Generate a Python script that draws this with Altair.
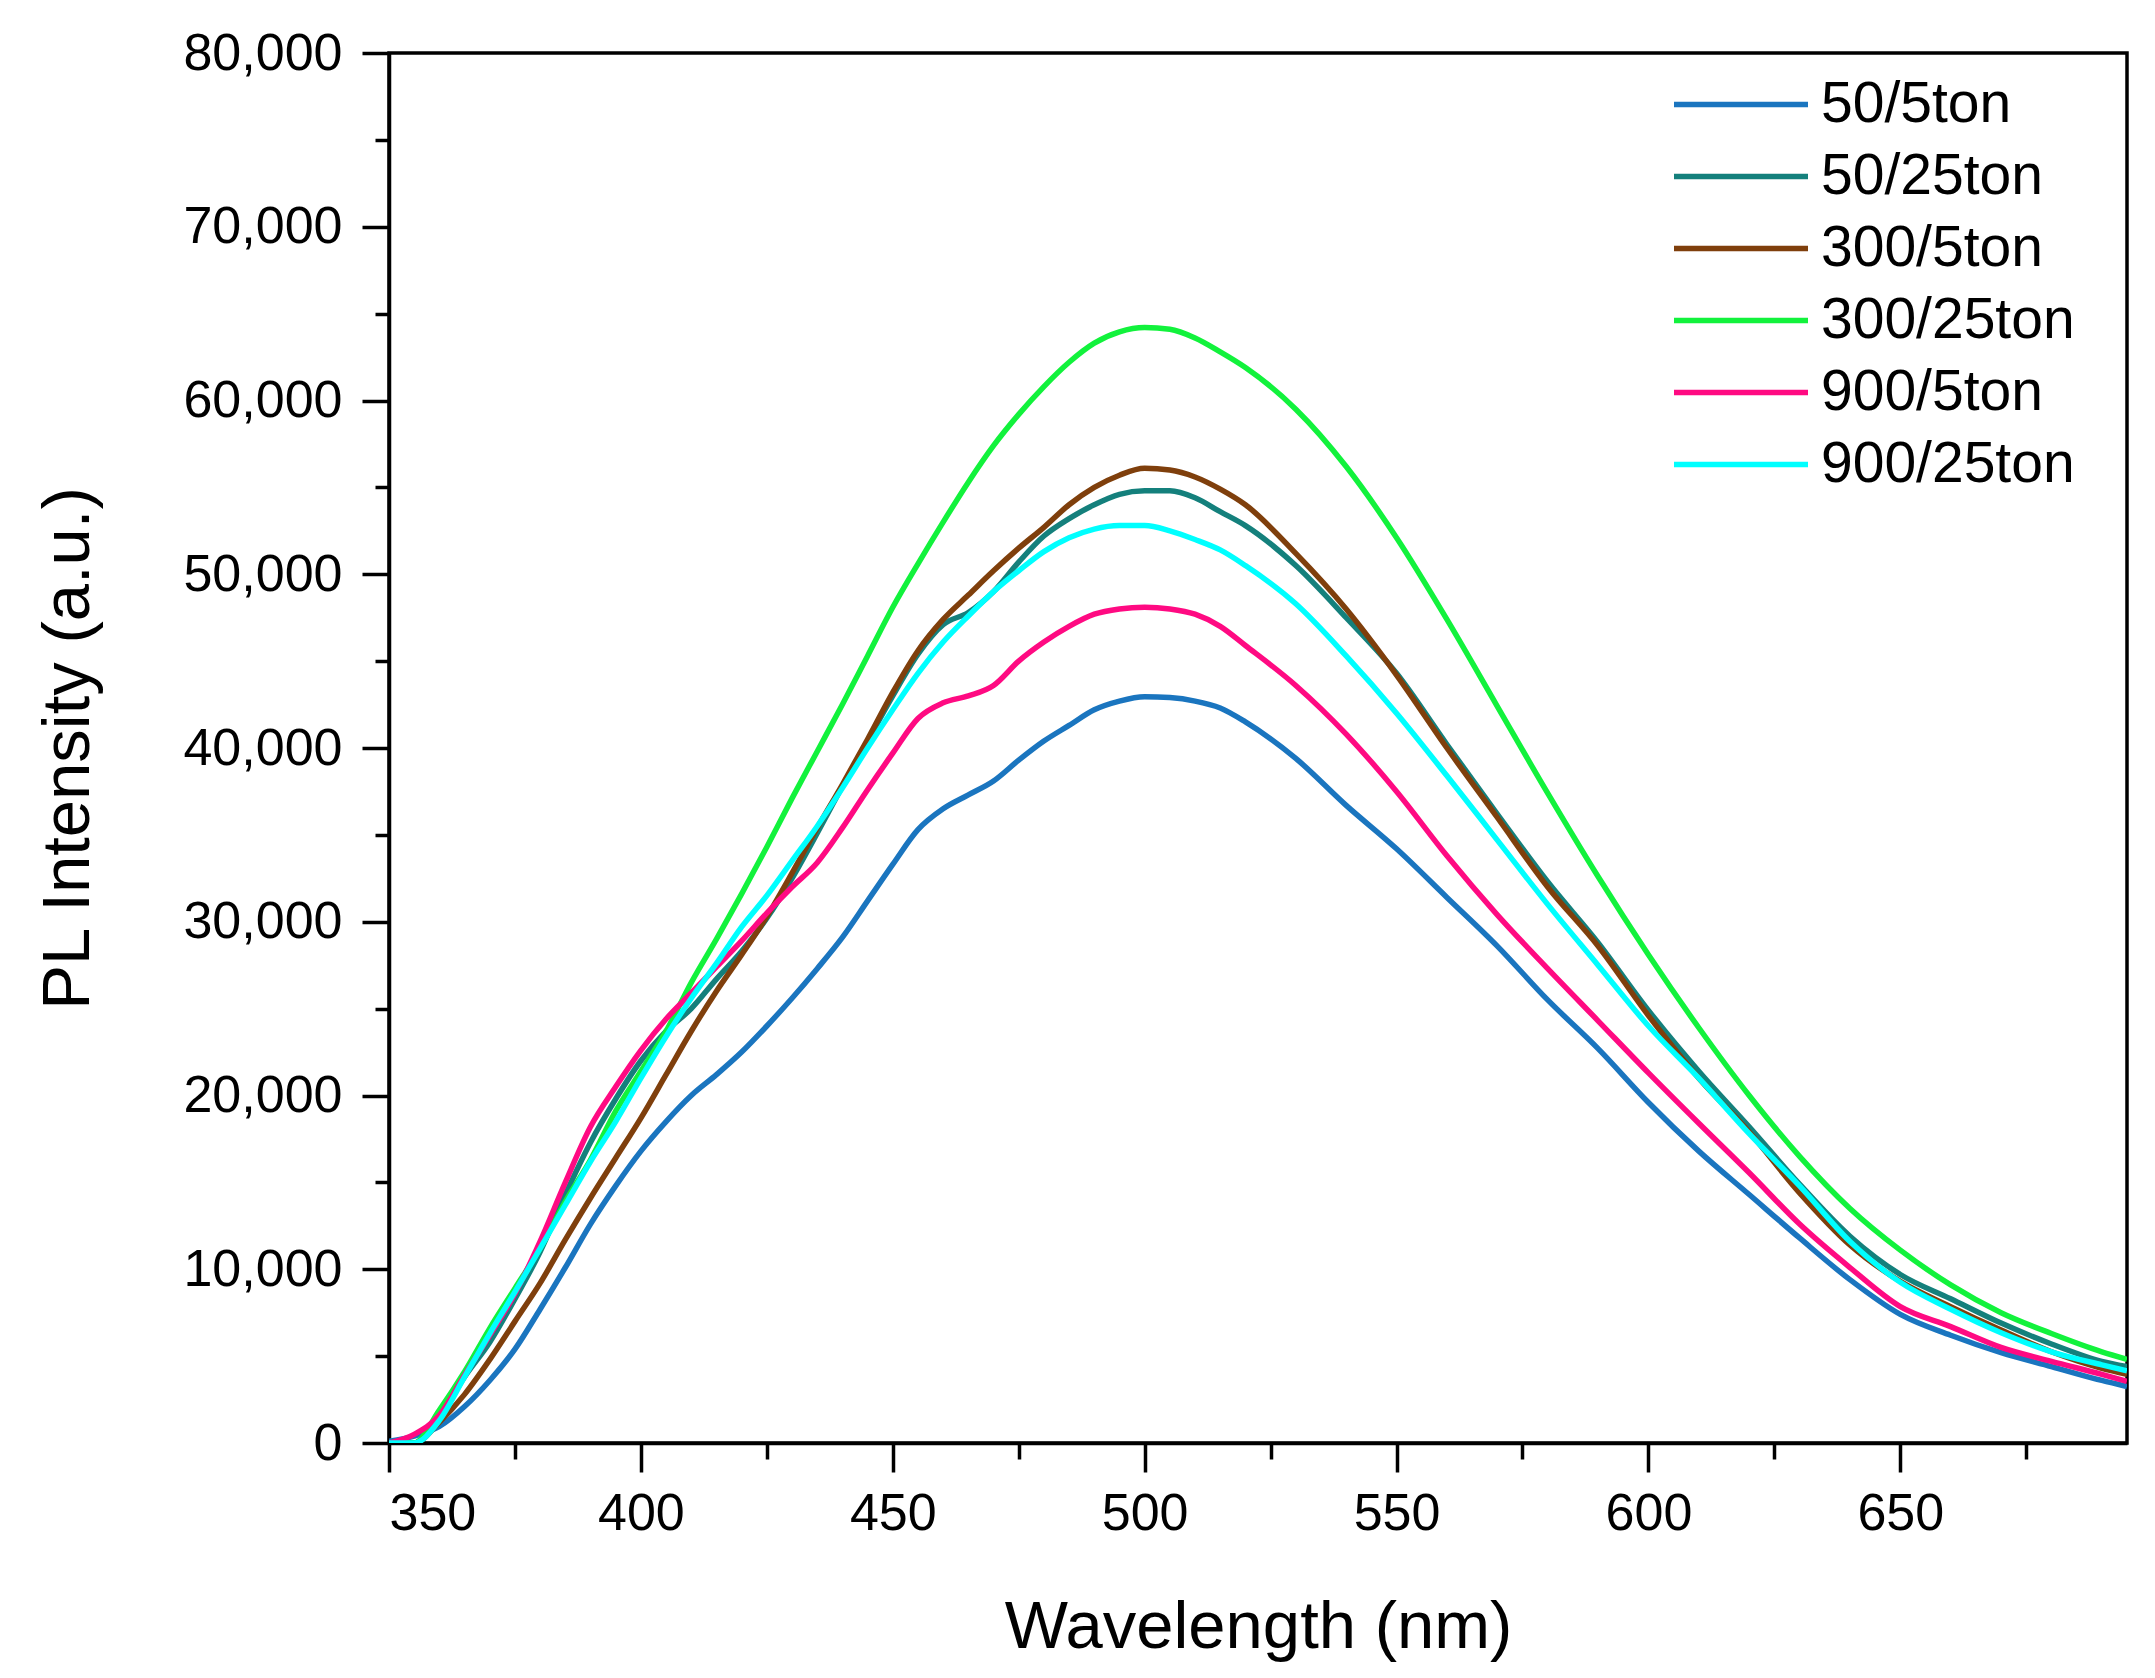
import altair as alt
import pandas as pd

# wavelength grid (nm)
wavelength = [350, 355, 360, 365, 370, 375, 380, 385, 390, 395, 400, 405, 410, 415,
              420, 425, 430, 435, 440, 445, 450, 455, 460, 465, 470, 475, 480, 485,
              490, 495, 500, 505, 510, 515, 520, 530, 540, 550, 560, 570, 580, 590,
              600, 610, 620, 630, 640, 650, 660, 670, 680, 690, 695]

s50_5 = [100, 400, 950, 2100, 3600, 5400, 7700, 10100, 12600, 14800, 16800, 18500, 20000, 21200,
         22500, 24000, 25600, 27300, 29100, 31200, 33300, 35300, 36500, 37300, 38100, 39300, 40400, 41300,
         42200, 42700, 42950, 42900, 42700, 42300, 41500, 39400, 36700, 34200, 31400, 28600, 25500, 22700,
         19600, 16800, 14300, 11800, 9400, 7400, 6200, 5200, 4400, 3600, 3250]

s50_25 = [0, 0, 1500, 3800, 5800, 8300, 11000, 14300, 17300, 19800, 22000, 23700, 25000, 26700,
          28300, 30200, 32500, 35100, 37800, 40400, 43000, 45400, 47100, 47800, 49000, 50700, 52200, 53200,
          54000, 54600, 54800, 54800, 54400, 53600, 52800, 50500, 47500, 44300, 40200, 36200, 32300, 28800,
          24900, 21400, 18200, 14900, 11900, 9700, 8300, 6900, 5700, 4700, 4400]

s300_5 = [0, 0, 1200, 2800, 4800, 7000, 9200, 11700, 14100, 16400, 18700, 21200, 23700, 26000,
          28100, 30300, 32800, 35400, 37900, 40500, 43200, 45600, 47400, 48800, 50200, 51500, 52700, 54000,
          55000, 55700, 56100, 56000, 55600, 54900, 54000, 51200, 48000, 44200, 40000, 36000, 32000, 28600,
          24600, 21000, 17900, 14400, 11400, 9300, 7850, 6500, 5250, 4300, 3960]

s300_25 = [0, 0, 1900, 4100, 6600, 8900, 11200, 13900, 16300, 19100, 21400, 23700, 26500, 29000,
           31600, 34300, 37100, 39800, 42500, 45300, 48100, 50600, 53000, 55300, 57400, 59200, 60800, 62200,
           63300, 63950, 64200, 64100, 63600, 62800, 61900, 59500, 56200, 52100, 47400, 42400, 37400, 32600,
           28100, 23900, 20000, 16500, 13500, 11100, 9100, 7500, 6300, 5250, 4820]

s900_5 = [0, 500, 1600, 3900, 6200, 8600, 11600, 15000, 18200, 20500, 22600, 24400, 25900, 27400,
          28900, 30500, 32000, 33400, 35400, 37600, 39700, 41700, 42600, 43000, 43600, 45000, 46100, 47000,
          47700, 48000, 48100, 48000, 47700, 47000, 45900, 43600, 40800, 37500, 33800, 30400, 27300, 24300,
          21300, 18400, 15550, 12600, 10100, 7850, 6700, 5500, 4700, 3950, 3550]

s900_25 = [0, 0, 1300, 3800, 6300, 8700, 11200, 13700, 16200, 18500, 21000, 23400, 25600, 27600,
           29700, 31500, 33500, 35500, 37700, 40000, 42200, 44300, 46100, 47600, 49000, 50200, 51300, 52100,
           52600, 52800, 52800, 52500, 52000, 51400, 50500, 48300, 45300, 42000, 38400, 34700, 31000, 27500,
           24000, 21000, 17800, 14800, 11600, 9250, 7700, 6350, 5250, 4500, 4160]

series_names = ["50/5ton", "50/25ton", "300/5ton", "300/25ton", "900/5ton", "900/25ton"]
series_colors = ["#1a75bf", "#14807c", "#7f3f0c", "#12f23c", "#ff0a82", "#00ffff"]
series_values = [s50_5, s50_25, s300_5, s300_25, s900_5, s900_25]

y_ticks = list(range(0, 80001, 5000))
x_ticks = list(range(350, 676, 25))

rows = []
for name, vals in zip(series_names, series_values):
    for w, v in zip(wavelength, vals):
        rows.append({"wl": w, "pl": v, "sample": name})
df = pd.DataFrame(rows)

font = "Liberation Sans"

chart = alt.Chart(df).mark_line(strokeWidth=5.5, interpolate="monotone", clip=True).encode(
    x=alt.X("wl:Q",
            scale=alt.Scale(domain=[350, 695], nice=False, zero=False),
            axis=alt.Axis(values=x_ticks, title="Wavelength (nm)",
                          labelExpr="datum.value % 50 === 0 ? datum.value : ''",
                          tickSize={"condition": {"test": "datum.value % 50 === 0", "value": 29}, "value": 16},
                          labelPadding=16, titleY=204, titleBaseline="alphabetic",
                          titleFontSize=67)),
    y=alt.Y("pl:Q",
            scale=alt.Scale(domain=[0, 80000], nice=False),
            axis=alt.Axis(values=y_ticks, title="PL Intensity (a.u.)",
                          labelExpr="datum.value % 10000 === 0 ? format(datum.value, ',') : ''",
                          tickSize={"condition": {"test": "datum.value % 10000 === 0", "value": 27}, "value": 14},
                          labelPadding=20, titleX=-301, titleBaseline="alphabetic",
                          titleFontSize=67)),
    color=alt.Color("sample:N",
                    scale=alt.Scale(domain=series_names, range=series_colors),
                    legend=alt.Legend(title=None, orient="none", legendX=1282, legendY=23,
                                      symbolType="stroke", symbolSize=17956, symbolStrokeWidth=5.5,
                                      labelFontSize=57, labelFont=font, labelOffset=10,
                                      labelLimit=0, clipHeight=57, rowPadding=14,
                                      labelColor="black")),
).properties(
    width=1738,
    height=1390,
    padding={"left": 381, "top": 45, "right": 20, "bottom": 220},
    autosize=alt.AutoSizeParams(type="none"),
).configure_view(
    stroke="black", strokeWidth=3.5
).configure_axis(
    domainColor="black", domainWidth=3.5, tickColor="black", tickWidth=3.5,
    grid=False, labelFont=font, labelFontSize=52, labelColor="black",
    titleFont=font, titleColor="black", titleFontWeight="normal"
)

chart.save("out.html", embed_options={"renderer": "svg", "actions": False})
